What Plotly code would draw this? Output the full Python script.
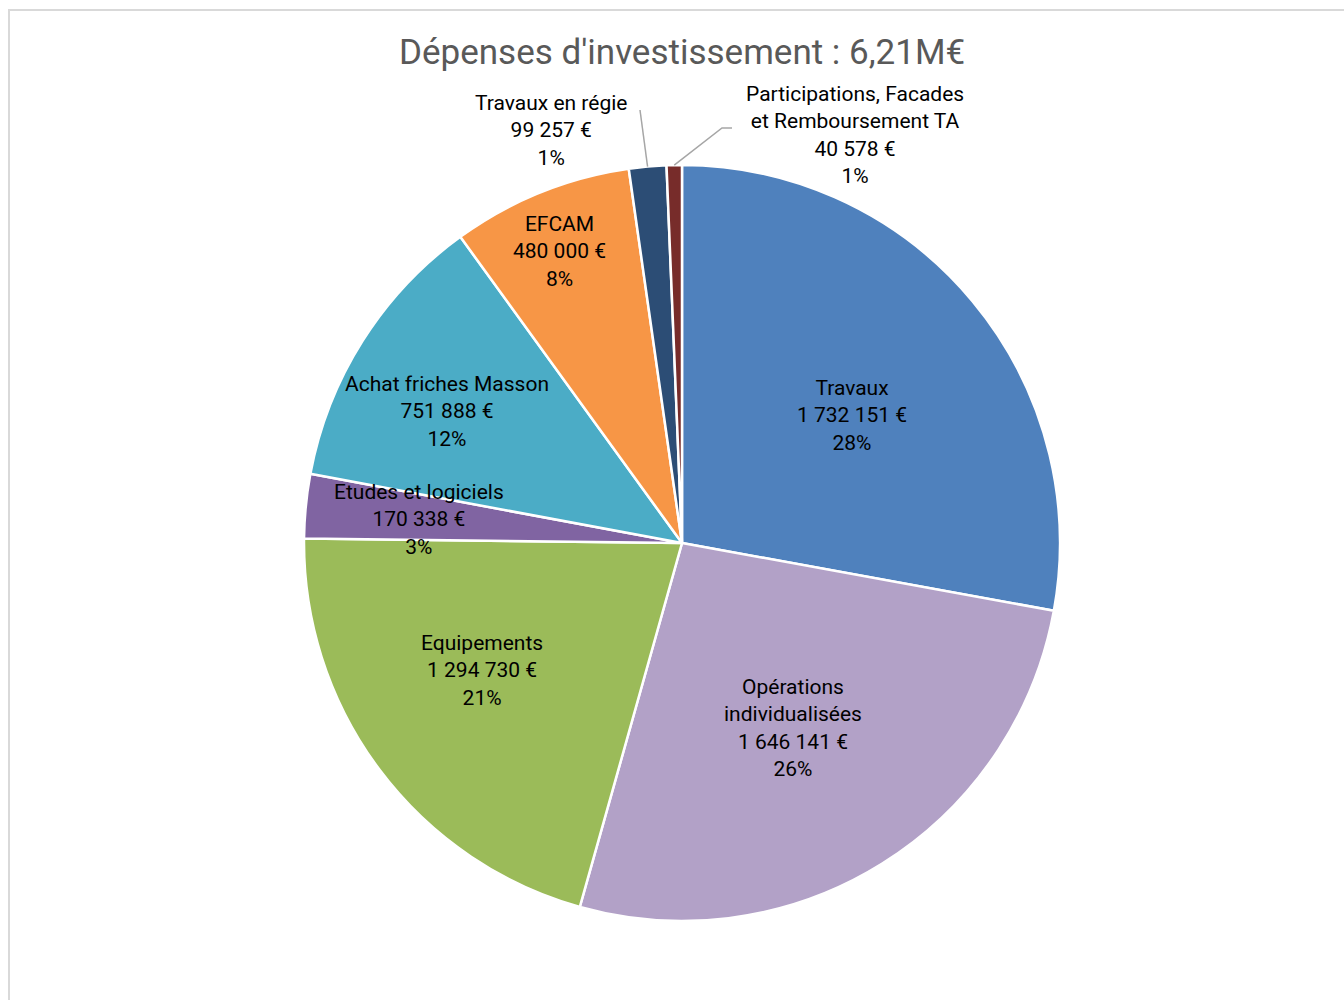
import math
import plotly.graph_objects as go

# Investment spending breakdown (euros)
categories = [
    "Travaux",
    "Opérations<br>individualisées",
    "Equipements",
    "Etudes et logiciels",
    "Achat friches Masson",
    "EFCAM",
    "Travaux en régie",
    "Participations, Facades<br>et Remboursement TA",
]
amounts = [1732151, 1646141, 1294730, 170338, 751888, 480000, 99257, 40578]
colors = ["#4F81BD", "#B2A1C7", "#9BBB59", "#8064A2", "#4BACC6",
          "#F79646", "#2C4D75", "#772C2A"]
title_text = "Dépenses d'investissement : 6,21M€"

W, H = 1344, 1000
FONT = "Roboto"

# pie geometry in pixels
cx, cy, R = 682, 543, 378


def px(x):
    return x / W


def py(y):
    return 1 - y / H


def fmt_eur(v):
    return f"{v:,}".replace(",", " ") + " €"


def rounded_percents(vals):
    # largest-remainder rounding so the labels add up to 100
    total = sum(vals)
    raw = [v * 100 / total for v in vals]
    base = [math.floor(r) for r in raw]
    missing = 100 - sum(base)
    order = sorted(range(len(vals)), key=lambda i: raw[i] - base[i], reverse=True)
    for i in order[:missing]:
        base[i] += 1
    return base


pcts = rounded_percents(amounts)
total = sum(amounts)

fig = go.Figure(go.Pie(
    labels=[c.replace("<br>", " ") for c in categories],
    values=amounts,
    sort=False,
    direction="clockwise",
    rotation=0,
    marker=dict(colors=colors, line=dict(color="white", width=2.5)),
    textinfo="none",
    hoverinfo="label+value+percent",
    showlegend=False,
    domain=dict(x=[px(cx - R), px(cx + R)], y=[py(cy + R), py(cy - R)]),
))

# inside labels: (radius as a fraction of R, angular nudge in degrees)
inside_place = [(0.561, 3.0), (0.571, 1.0), (0.628, 4.2),
                (0.698, -0.6), (0.713, -3.0), (0.837, -0.7)]
# label anchor positions (pixels) for the two thin slices labelled outside
outside_pos = {6: (551, 130), 7: (855, 134.5)}
leader_end = {6: [(640, 110)], 7: [(722, 128), (732, 128)]}

annotations = []
shapes = []
cum = 0.0
for i, (cat, v) in enumerate(zip(categories, amounts)):
    frac = v / total
    mid = (cum + frac / 2) * 2 * math.pi
    cum += frac
    text = f"{cat}<br>{fmt_eur(v)}<br>{pcts[i]}%"
    if i in outside_pos:
        lx, ly = outside_pos[i]
        ex, ey = cx + R * math.sin(mid), cy - R * math.cos(mid)
        pts = [(ex, ey)] + leader_end[i]
        path = "M " + " L ".join(f"{px(a)},{py(b)}" for a, b in pts)
        shapes.append(dict(type="path", xref="paper", yref="paper", path=path,
                           line=dict(color="#A6A6A6", width=1.5)))
    else:
        f, nudge = inside_place[i]
        ang = mid + math.radians(nudge)
        rr = R * f
        lx, ly = cx + rr * math.sin(ang), cy - rr * math.cos(ang)
    annotations.append(dict(
        x=px(lx), y=py(ly), xref="paper", yref="paper", text=text,
        showarrow=False, xanchor="center", yanchor="middle", align="center",
        font=dict(family=FONT, size=21, color="#000000"),
    ))

annotations.append(dict(
    x=px(682), y=py(52), xref="paper", yref="paper", text=title_text,
    showarrow=False, xanchor="center", yanchor="middle",
    font=dict(family=FONT, size=35, color="#595959"),
))

# chart area border
shapes.append(dict(type="rect", xref="paper", yref="paper",
                   x0=px(9), x1=1.05, y0=-0.05, y1=py(10),
                   line=dict(color="#D9D9D9", width=2), layer="below"))

fig.update_layout(
    width=W, height=H,
    margin=dict(l=0, r=0, t=0, b=0),
    paper_bgcolor="white",
    plot_bgcolor="white",
    annotations=annotations,
    shapes=shapes,
)

fig.write_html("out.html")
